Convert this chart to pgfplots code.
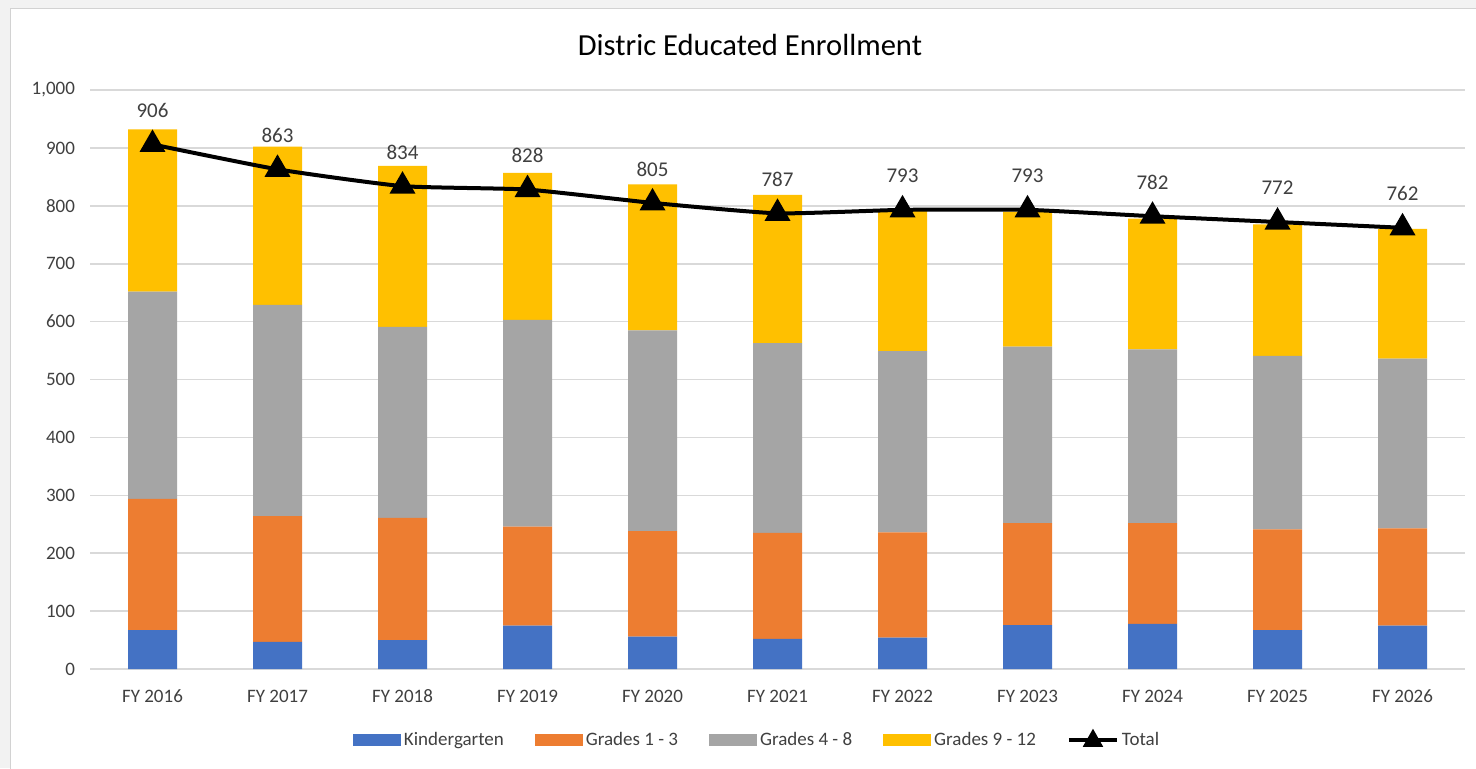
\documentclass[border=0pt]{standalone}
\usepackage{pgfplots}
\pgfplotsset{compat=1.18}
\usepackage{fontspec}
\setmainfont{Carlito}
\definecolor{cK}{HTML}{4472C4}
\definecolor{cA}{HTML}{ED7D31}
\definecolor{cB}{HTML}{A5A5A5}
\definecolor{cC}{HTML}{FFC000}
\definecolor{txt}{HTML}{404040}
\pgfplotsset{
  barlegend/.style={legend image code/.code={\fill[##1] (0pt,-3pt) rectangle (24pt,3pt);}},
  totlegend/.style={legend image code/.code={\draw[##1] (0pt,0pt) -- (24pt,0pt);
     \fill[black] (12pt,3.6pt) -- (8.6pt,-2.4pt) -- (15.4pt,-2.4pt) -- cycle;}},
}
\pgfplotstableread{
x K G13 G48 G912 Tot
0 67 227 358 280 906
1 47 217 365 273 863
2 50 211 330 278 834
3 75 171 357 254 828
4 56 182 347 252 805
5 52 183 328 256 787
6 54 182 313 242 793
7 76 176 305 233 793
8 78 174 300 226 782
9 67 174 300 227 772
10 75 168 293 224 762
}\data
\begin{document}
\begin{tikzpicture}
\path[use as bounding box] (-45pt,-49.5pt) rectangle (693pt,334.5pt);
\fill[gray!10] (-45pt,-49.5pt) rectangle (693pt,334.5pt);
\filldraw[fill=white,draw=gray!35] (-40pt,-80pt) rectangle (720pt,330.5pt);
\pgfplotsset{common/.style={scale only axis, width=687.5pt, height=289.5pt,
  xmin=-0.5, xmax=10.5, ymin=0, ymax=1000, clip=false,
  /pgf/number format/assume math mode=true,
  /pgf/number format/1000 sep={,}}}
\begin{axis}[common, ybar stacked, bar width=24.5pt,
  ytick={0,100,...,1000}, xtick={0,...,10},
  xticklabels={FY 2016,FY 2017,FY 2018,FY 2019,FY 2020,FY 2021,FY 2022,FY 2023,FY 2024,FY 2025,FY 2026},
  ymajorgrids, major grid style={draw=gray!30, line width=0.8pt},
  axis line style={draw=none}, tick style={draw=none},
  ticklabel style={font=\fontsize{9.5}{11}\selectfont, text=txt},
  xticklabel style={yshift=-6pt, text height=7pt, text depth=0pt},
  yticklabel style={xshift=-4pt},
  barlegend,
  legend style={at={(0.4855,-0.1226)}, anchor=center, draw=none, fill=none,
    font=\fontsize{9.5}{11}\selectfont, text=txt, legend columns=5,
    /tikz/every even column/.append style={column sep=14pt},
    nodes={inner sep=1.5pt}},
]
\addplot[fill=cK, draw=none] table[x=x, y=K] {\data};
\addlegendentry{Kindergarten}
\addplot[fill=cA, draw=none] table[x=x, y=G13] {\data};
\addlegendentry{Grades 1 - 3}
\addplot[fill=cB, draw=none] table[x=x, y=G48] {\data};
\addlegendentry{Grades 4 - 8}
\addplot[fill=cC, draw=none] table[x=x, y=G912] {\data};
\addlegendentry{Grades 9 - 12}
\addlegendimage{black, line width=2pt, totlegend}
\addlegendentry{Total}
\end{axis}
\begin{axis}[common, axis lines=none, ticks=none]
\addplot[black, line width=2pt, smooth, tension=0.3, mark=triangle*, mark size=5.5pt,
  nodes near coords, every node near coord/.append style={anchor=center, yshift=17pt,
    font=\fontsize{10.5}{12}\selectfont, text=txt}] table[x=x, y=Tot] {\data};
\end{axis}
\node[font=\fontsize{15.3}{18}\selectfont, text=black] at (330pt,312pt) {Distric Educated Enrollment};
\end{tikzpicture}
\end{document}
